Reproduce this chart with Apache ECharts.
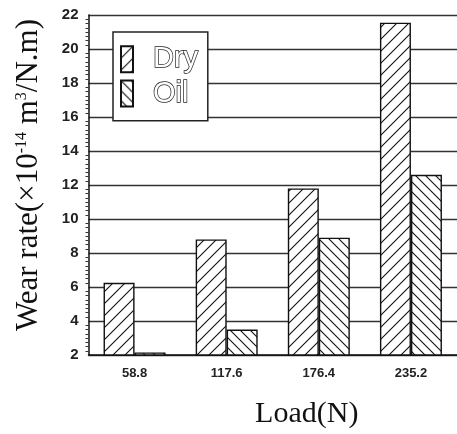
<!DOCTYPE html>
<html>
<head>
<meta charset="utf-8">
<script src="https://cdn.jsdelivr.net/npm/echarts@6/dist/echarts.min.js"></script>
<style>html,body{margin:0;padding:0;background:#fff;}#c{width:457px;height:434px;}</style>
</head>
<body>
<div id="c"></div>
<script>
var categories = ['58.8', '117.6', '176.4', '235.2'];
var dryValues = [6.25, 8.8, 11.8, 21.55];
var oilValues = [2.15, 3.5, 8.9, 12.6];
var seriesNames = ['Dry', 'Oil'];

function hatch(size, dir) {
  var c = document.createElement('canvas');
  c.width = size; c.height = size;
  var g = c.getContext('2d');
  g.fillStyle = '#fff';
  g.fillRect(0, 0, size, size);
  g.strokeStyle = '#111';
  g.lineWidth = 1.1;
  g.beginPath();
  if (dir === '/') {
    g.moveTo(0, size); g.lineTo(size, 0);
    g.moveTo(-2, 2); g.lineTo(2, -2);
    g.moveTo(size - 2, size + 2); g.lineTo(size + 2, size - 2);
  } else {
    g.moveTo(0, 0); g.lineTo(size, size);
    g.moveTo(-2, size - 2); g.lineTo(2, size + 2);
    g.moveTo(size - 2, -2); g.lineTo(size + 2, 2);
  }
  g.stroke();
  return { image: c, repeat: 'repeat' };
}

var serif = 'Liberation Serif, Times New Roman, serif';
var sans = 'Liberation Sans, Arial, sans-serif';

var chart = echarts.init(document.getElementById('c'));
chart.setOption({
  backgroundColor: '#fff',
  animation: false,
  grid: { left: 88.5, top: 15, bottom: 78, right: -6 },
  legend: {
    data: seriesNames,
    orient: 'vertical',
    left: 113,
    top: 32,
    padding: [12, 9, 12, 7],
    itemGap: 4,
    itemWidth: 12,
    itemHeight: 26,
    icon: 'rect',
    backgroundColor: '#fff',
    borderColor: '#222',
    borderWidth: 1.5,
    borderRadius: 0,
    z: 10,
    textStyle: {
      fontFamily: sans,
      fontSize: 29,
      color: '#fff',
      textBorderColor: '#222',
      textBorderWidth: 1.4,
      padding: [0, 0, 0, 15]
    }
  },
  xAxis: {
    type: 'category',
    data: categories,
    name: 'Load(N)',
    nameLocation: 'middle',
    nameGap: 44,
    nameTextStyle: { fontFamily: serif, fontSize: 30, color: '#111', padding: [0, 0, 0, 68] },
    axisLine: { lineStyle: { color: '#111', width: 1.5 } },
    axisTick: { show: false },
    axisLabel: { fontFamily: sans, fontWeight: 'bold', fontSize: 13, color: '#222', margin: 12 }
  },
  yAxis: {
    type: 'value',
    min: 2,
    max: 22,
    interval: 2,
    name: 'Wear rate(×10{sup|-14} m{sup|3}/N.m)',
    nameLocation: 'middle',
    nameGap: 44,
    nameTextStyle: {
      fontFamily: serif, fontSize: 31, color: '#111', padding: [0, 0, 0, 20],
      rich: {
        sup: { fontFamily: serif, fontSize: 16, color: '#111', verticalAlign: 'top', lineHeight: 31 }
      }
    },
    axisLine: { show: true, lineStyle: { color: '#111', width: 1.5 } },
    axisTick: { show: false },
    minorTick: { show: true, splitNumber: 8, length: 3, inside: true, lineStyle: { color: '#333', width: 1 } },
    splitLine: { show: true, lineStyle: { color: '#333', width: 1.3 } },
    axisLabel: { fontFamily: sans, fontWeight: 'bold', fontSize: 15, color: '#222', margin: 10 }
  },
  series: [
    {
      name: seriesNames[0], type: 'bar', data: dryValues, barWidth: 31, barGap: '0%',
      itemStyle: { color: hatch(12, '/'), borderColor: '#111', borderWidth: 1.4 }
    },
    {
      name: seriesNames[1], type: 'bar', data: oilValues, barWidth: 31, barGap: '0%',
      itemStyle: { color: hatch(10, '\\'), borderColor: '#111', borderWidth: 1.4 }
    }
  ]
});
</script>
</body>
</html>
